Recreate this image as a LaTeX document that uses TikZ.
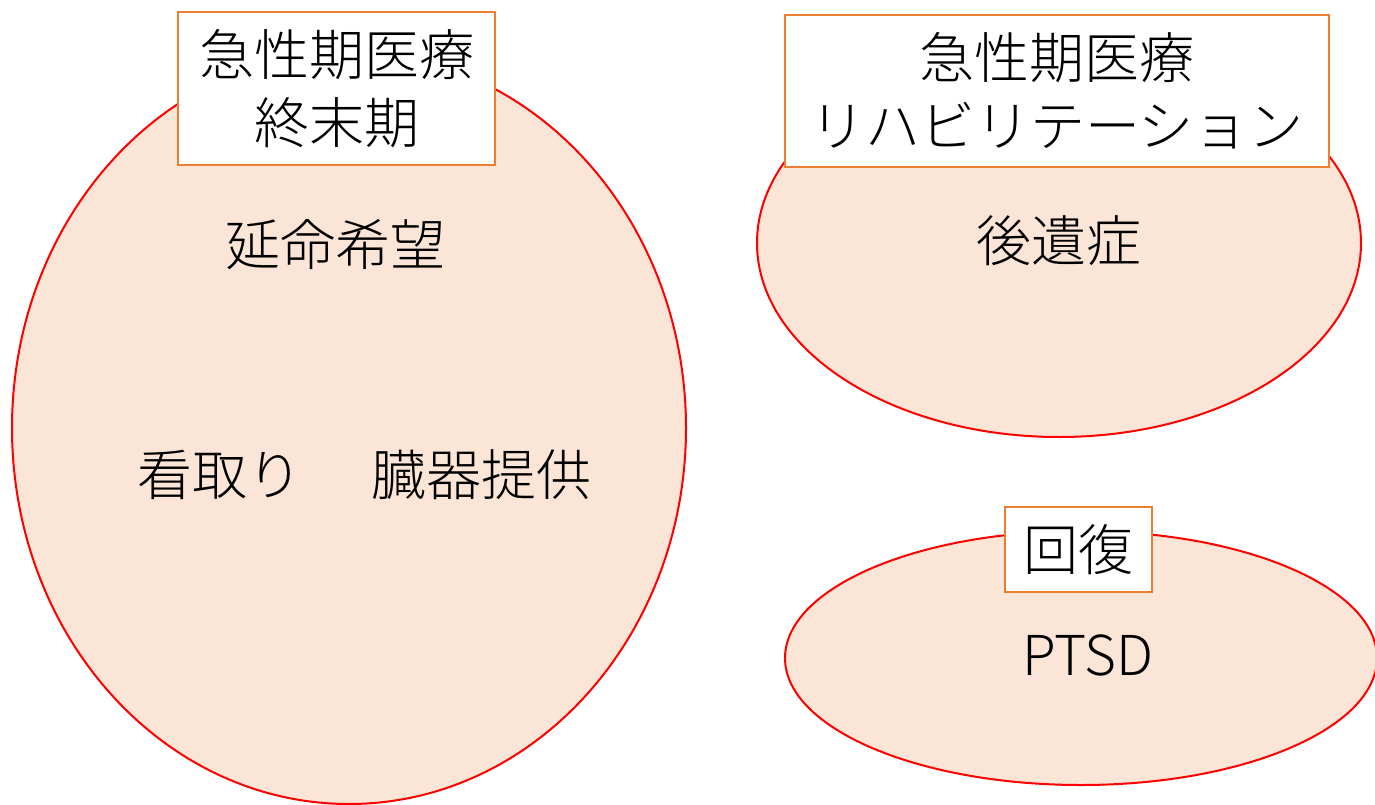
\documentclass[tikz,border=0pt]{standalone}
\usepackage{fontspec}
\setmainfont{Noto Sans CJK JP}[UprightFont=* Light]
\usetikzlibrary{shapes.geometric}
\definecolor{peach}{RGB}{251,229,214}
\definecolor{boxorange}{RGB}{237,125,49}
\tikzset{
  blob/.style={ellipse, draw=red, fill=peach, line width=2pt, inner sep=0pt},
  labelbox/.style={rectangle, draw=boxorange, fill=white, line width=2pt, inner sep=0pt, align=center,
     font=\fontsize{55}{68}\selectfont},
  txt/.style={inner sep=0pt, font=\fontsize{55}{68}\selectfont, text height=0.8em, text depth=0.12em}
}
\begin{document}
\begin{tikzpicture}[x=1pt,y=-1pt]
\useasboundingbox (0,0) rectangle (1375,805);
% ellipses
\node[blob, minimum width=674pt, minimum height=752pt] (e1) at (349,428) {};
\node[blob, minimum width=604pt, minimum height=388pt] (e2) at (1059,243) {};
\node[blob, minimum width=592pt, minimum height=254pt] (e3) at (1081,658) {};
% boxes
\node[labelbox, minimum width=317pt, minimum height=153pt] (b1) at (336.5,88.5) {急性期医療\\終末期};
\node[labelbox, minimum width=544pt, minimum height=152pt] (b2) at (1057,91) {急性期医療\\リハビリテーション};
\node[labelbox, minimum width=147pt, minimum height=85pt] (b3) at (1078.5,549.5) {回復};
% texts
\node[txt] (t1) at (335,262) {延命希望};
\node[txt] (t2) at (220,492) {看取り};
\node[txt] (t3) at (481,492) {臓器提供};
\node[txt] (t4) at (1059,258) {後遺症};
\node[txt] (t5) at (1088,672) {PTSD};
\end{tikzpicture}
\end{document}
